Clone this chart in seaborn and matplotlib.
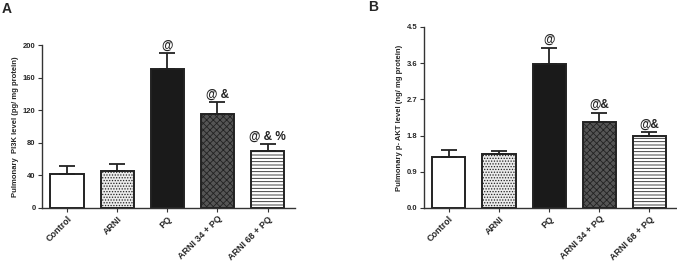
import matplotlib
matplotlib.use("Agg")
import matplotlib.pyplot as plt
import seaborn as sns
import numpy as np
import pandas as pd

sns.set_style("white")
plt.rcParams['font.family'] = ['Liberation Sans', 'DejaVu Sans']
plt.rcParams['hatch.linewidth'] = 0.6

groups = ["Control", "ARNI", "PQ", "ARNI 34 + PQ", "ARNI 68 + PQ"]
pi3k_mean = [42, 45, 171, 115, 70]
pi3k_err = [10, 9, 19, 15, 8]
pi3k_marks = ["", "", "@", "@ &", "@ & %"]
akt_mean = [1.28, 1.34, 3.58, 2.14, 1.80]
akt_err = [0.15, 0.08, 0.40, 0.22, 0.08]
akt_marks = ["", "", "@", "@&", "@&"]
pi3k_ticks = [0, 40, 80, 120, 160, 200]
akt_ticks = [0.0, 0.9, 1.8, 2.7, 3.6, 4.5]

faces = ["white", "#ebebeb", "#1a1a1a", "#555555", "white"]
hatches = [None, "......", None, "xxxxx", "-----"]

fig = plt.figure(figsize=(6.77, 2.67), dpi=100)
axA = fig.add_axes([0.062, 0.221, 0.374, 0.61])
axB = fig.add_axes([0.626, 0.221, 0.374, 0.678])


def draw(ax, means, errs, marks, ticks, ylabel, tickfmt, markoff):
    df = pd.DataFrame({"group": groups, "value": means})
    sns.barplot(data=df, x="group", y="value", ax=ax, width=0.66,
                color="white", edgecolor="#222222", linewidth=1.4,
                errorbar=None)
    for p, fc, h in zip(ax.patches, faces, hatches):
        p.set_facecolor(fc)
        if h:
            p.set_hatch(h)
    x = np.arange(len(groups))
    ax.errorbar(x, means, yerr=[np.zeros(len(errs)), errs], fmt="none",
                ecolor="#222222", elinewidth=1.3, capsize=6, capthick=1.3)
    for xi, m, e, t in zip(x, means, errs, marks):
        if t:
            ax.text(xi, m + e + markoff, t, ha="center", va="bottom",
                    fontsize=8.5, fontweight="bold", color="#222222")
    ax.set_xlim(-0.5, 4.55)
    ax.set_ylim(0, ticks[-1])
    ax.set_yticks(ticks)
    ax.set_yticklabels([tickfmt(t) for t in ticks], fontsize=5.5,
                       fontweight="bold")
    ax.set_xticks(x)
    ax.set_xticklabels(groups, rotation=45, ha="right",
                       rotation_mode="anchor", fontsize=6.5,
                       fontweight="bold")
    ax.set_xlabel("")
    ax.set_ylabel(ylabel, fontsize=5.5, fontweight="bold", labelpad=3)
    for s in ["top", "right"]:
        ax.spines[s].set_visible(False)
    for s in ["left", "bottom"]:
        ax.spines[s].set_linewidth(1.0)
        ax.spines[s].set_color("#333333")
    ax.tick_params(axis="both", direction="out", length=3, width=0.8,
                   color="#333333", pad=1.5, left=True, bottom=True)


draw(axA, pi3k_mean, pi3k_err, pi3k_marks, pi3k_ticks,
     "Pulmonary  PI3K level (pg/ mg protein)", lambda t: f"{t:d}", 2)
draw(axB, akt_mean, akt_err, akt_marks, akt_ticks,
     "Pulmonary p- AKT level (ng/ mg protein)", lambda t: f"{t:.1f}", 0.05)

fig.text(0.003, 0.965, "A", fontsize=10, fontweight="bold", va="center")
fig.text(0.544, 0.972, "B", fontsize=10, fontweight="bold", va="center")

fig.savefig("out.png", dpi=100)
